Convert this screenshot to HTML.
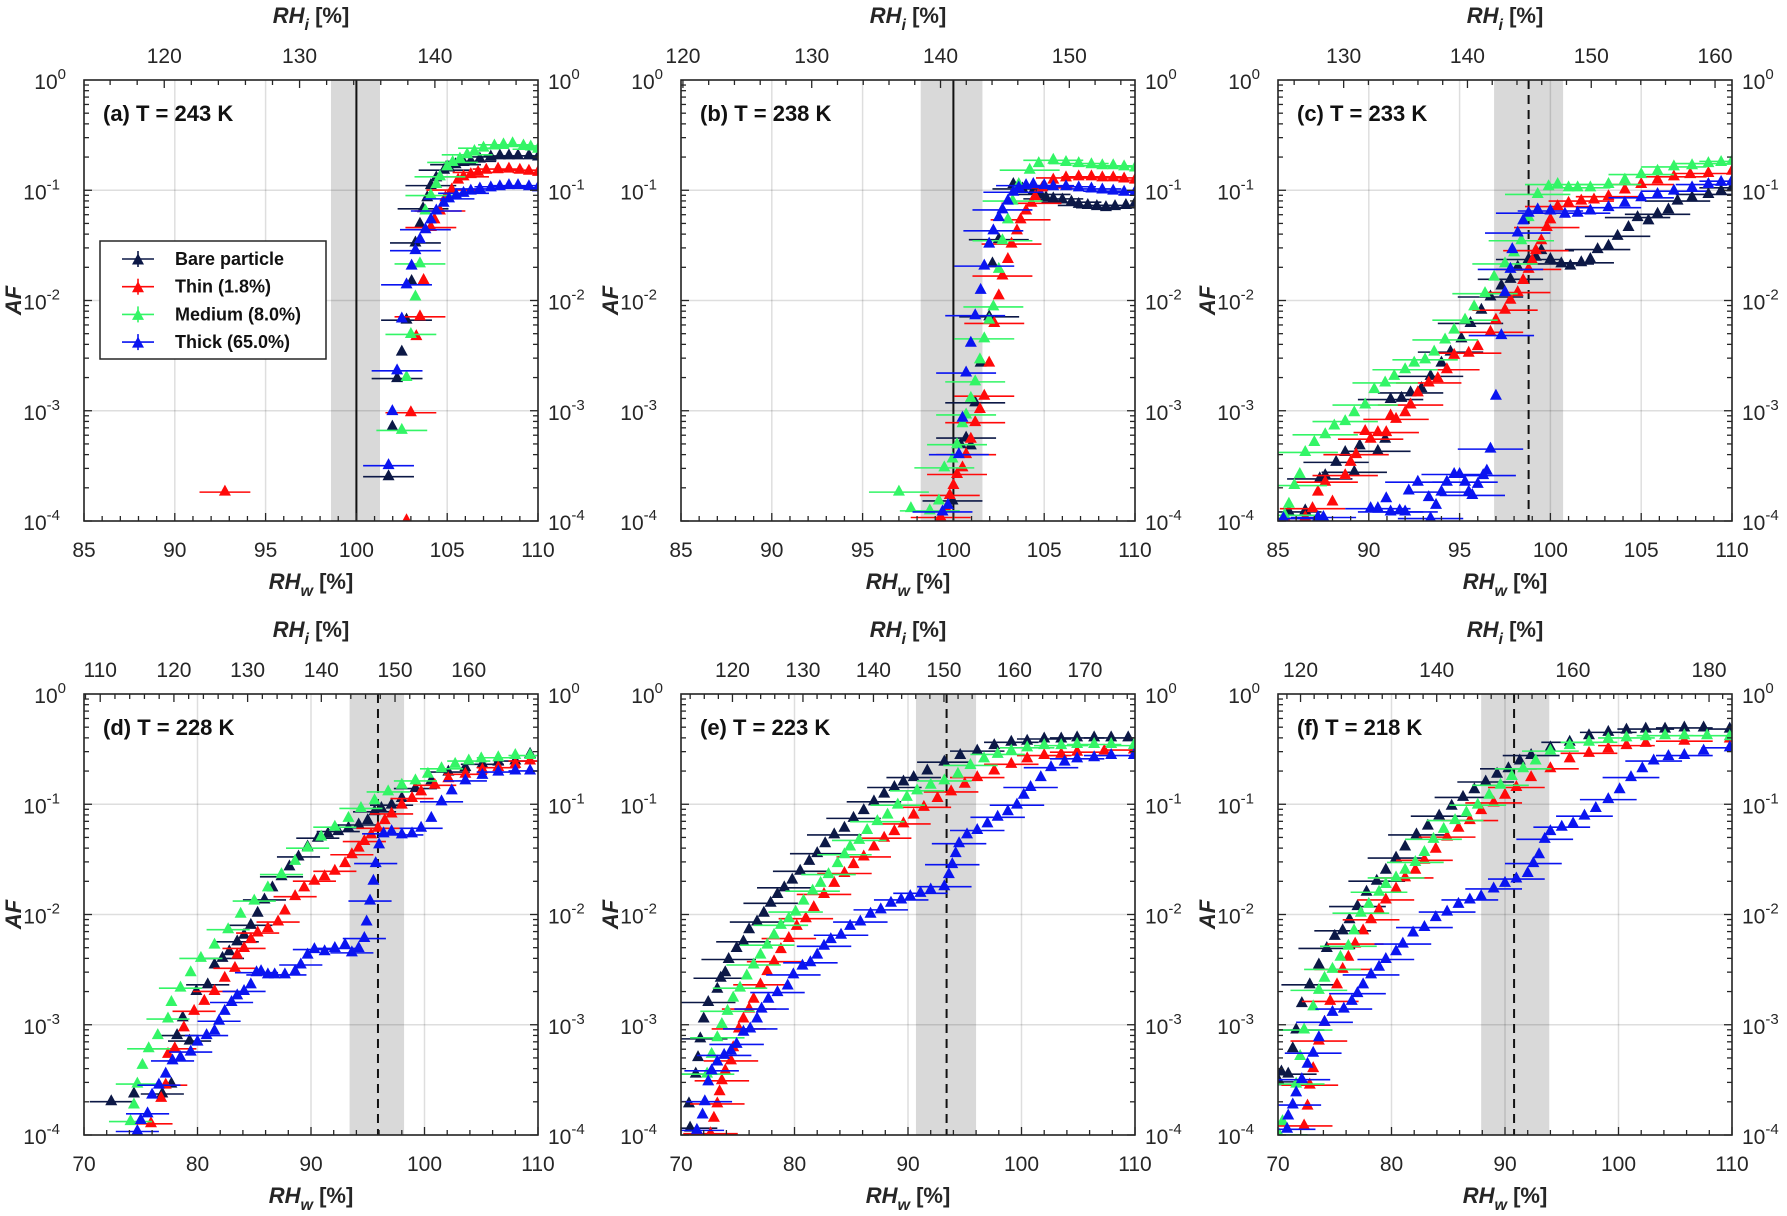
<!DOCTYPE html>
<html><head><meta charset="utf-8"><style>
body{margin:0;background:#fff}
svg{display:block;font-family:"Liberation Sans",Arial,sans-serif}
</style></head><body>
<svg id="fig" xmlns="http://www.w3.org/2000/svg" width="1787" height="1216" viewBox="0 0 1787 1216"></svg>
<script>
// ===== DATA: [RHw %, log10(AF)] =====
const bareA=[[101.77,-3.58],[101.98,-3.13],[102.24,-2.69],[102.5,-2.45],[102.76,-2.16],[103.04,-1.81],[103.25,-1.46],[103.5,-1.29],[103.67,-1.15],[103.9,-1.05],[104.1,-0.94],[104.4,-0.87],[104.83,-0.8],[105.1,-0.78],[105.46,-0.75],[105.9,-0.73],[106.3,-0.72],[106.8,-0.7],[107.4,-0.68],[107.9,-0.67],[108.4,-0.67],[108.9,-0.67],[109.5,-0.67],[110,-0.68]];
const thinA=[[92.76,-3.72],[102.76,-3.98],[103.0,-3.0],[103.3,-2.31],[103.5,-2.13],[103.7,-1.8],[104.1,-1.32],[104.3,-1.25],[104.6,-1.17],[104.9,-1.05],[105.25,-0.98],[105.6,-0.89],[105.9,-0.86],[106.3,-0.84],[106.7,-0.82],[107.15,-0.8],[107.8,-0.79],[108.4,-0.79],[109,-0.8],[109.5,-0.81],[110,-0.82]];
const medA=[[102.5,-3.16],[102.76,-2.68],[103.0,-2.29],[103.25,-1.95],[103.5,-1.65],[103.8,-1.17],[104.1,-1.03],[104.4,-0.93],[104.6,-0.86],[105.0,-0.77],[105.3,-0.73],[105.7,-0.7],[106.1,-0.66],[106.5,-0.63],[107.0,-0.6],[107.6,-0.58],[108.1,-0.57],[108.6,-0.56],[109.2,-0.58],[109.6,-0.59],[110,-0.61]];
const thickA=[[101.77,-3.48],[101.98,-2.99],[102.24,-2.62],[102.5,-2.15],[102.76,-1.84],[103.04,-1.67],[103.25,-1.53],[103.5,-1.43],[103.8,-1.34],[104.1,-1.25],[104.4,-1.17],[104.8,-1.1],[105.1,-1.06],[105.5,-1.03],[105.9,-1.01],[106.3,-0.99],[106.8,-0.97],[107.4,-0.96],[107.9,-0.95],[108.4,-0.94],[108.9,-0.94],[109.5,-0.95],[110,-0.96]];

const bareB=[[99.95,-3.8],[100.4,-3.29],[100.7,-3.23],[100.96,-3.3],[101.2,-2.91],[101.5,-2.55],[101.97,-2.13],[102.15,-1.65],[102.5,-1.43],[103.3,-0.93],[103.8,-0.97],[104.4,-0.99],[104.8,-1.02],[105.1,-1.05],[105.5,-1.06],[106.0,-1.07],[106.5,-1.09],[106.9,-1.11],[107.4,-1.12],[107.9,-1.13],[108.4,-1.14],[108.9,-1.13],[109.5,-1.12],[110,-1.1]];
const thinB=[[99.3,-3.95],[99.6,-3.87],[99.8,-3.75],[100.0,-3.66],[100.2,-3.56],[100.5,-3.5],[100.7,-3.38],[100.96,-3.24],[101.2,-3.09],[101.46,-2.97],[101.7,-2.85],[101.97,-2.55],[102.25,-2.19],[102.5,-1.94],[102.7,-1.76],[103.0,-1.61],[103.2,-1.47],[103.5,-1.35],[103.7,-1.25],[104.0,-1.17],[104.3,-1.1],[104.5,-1.04],[104.9,-0.96],[105.5,-0.89],[106.2,-0.87],[106.9,-0.86],[107.6,-0.86],[108.2,-0.87],[108.8,-0.87],[109.4,-0.88],[110,-0.89]];
const medB=[[97.0,-3.72],[97.66,-3.87],[98.7,-3.89],[99.2,-3.8],[99.5,-3.5],[99.95,-3.42],[100.2,-3.29],[100.5,-3.1],[100.7,-3.02],[100.96,-2.87],[101.2,-2.72],[101.46,-2.52],[101.7,-2.33],[101.97,-2.16],[102.2,-2.04],[102.5,-1.7],[102.7,-1.44],[103.0,-1.25],[103.26,-1.08],[103.6,-0.93],[104.2,-0.8],[104.7,-0.74],[105.5,-0.71],[106.2,-0.73],[106.9,-0.74],[107.6,-0.75],[108.2,-0.76],[108.8,-0.76],[109.4,-0.77],[110,-0.78]];
const thickB=[[99.4,-3.9],[99.7,-3.84],[100.3,-3.38],[100.5,-3.05],[100.7,-2.64],[100.96,-2.37],[101.2,-2.12],[101.5,-1.89],[101.7,-1.67],[101.97,-1.47],[102.2,-1.35],[102.5,-1.23],[102.7,-1.16],[103.0,-1.08],[103.3,-1.0],[103.6,-0.96],[104.0,-0.94],[104.4,-0.93],[105.0,-0.94],[105.5,-0.95],[106.2,-0.95],[106.9,-0.96],[107.6,-0.97],[108.2,-0.98],[108.8,-0.99],[109.4,-1.0],[110,-1.0]];

const bareC=[[85.6,-3.9],[86.5,-3.89],[87.3,-3.6],[87.6,-3.57],[88.2,-3.45],[88.7,-3.36],[89.2,-3.54],[89.5,-3.3],[90.5,-3.35],[90.9,-3.24],[91.2,-2.88],[91.8,-2.87],[92.3,-2.82],[92.9,-2.78],[93.4,-2.67],[94.0,-2.55],[94.5,-2.45],[95.1,-2.33],[95.6,-2.19],[96.2,-2.07],[96.7,-1.95],[97.3,-1.85],[97.8,-1.79],[98.2,-1.68],[98.8,-1.61],[99.2,-1.59],[99.5,-1.53],[100.0,-1.61],[100.6,-1.65],[101.1,-1.67],[101.7,-1.64],[102.2,-1.61],[102.6,-1.52],[103.2,-1.49],[103.7,-1.4],[104.3,-1.32],[104.8,-1.23],[105.4,-1.26],[105.9,-1.2],[106.5,-1.16],[107.0,-1.08],[107.8,-1.05],[108.7,-1.02],[109.4,-0.99],[110,-0.96]];
const thinC=[[85.4,-3.96],[86.5,-3.95],[86.9,-3.87],[87.2,-3.72],[87.6,-3.63],[88.0,-3.81],[88.7,-3.57],[89.0,-3.45],[89.3,-3.38],[89.8,-3.17],[90.1,-3.24],[90.5,-3.18],[90.96,-3.18],[91.2,-3.03],[91.5,-3.06],[92.0,-3.0],[92.3,-2.93],[92.7,-2.82],[93.3,-2.73],[93.8,-2.69],[94.3,-2.61],[94.7,-2.48],[95.5,-2.46],[96.0,-2.4],[96.7,-2.27],[97.0,-2.16],[97.5,-2.07],[97.8,-1.98],[98.2,-1.91],[98.5,-1.8],[98.8,-1.7],[99.0,-1.62],[99.2,-1.53],[99.5,-1.44],[99.8,-1.32],[100.0,-1.25],[100.4,-1.13],[101.0,-1.1],[101.7,-1.08],[102.4,-1.07],[103.2,-1.04],[104.1,-0.98],[105.0,-0.93],[105.9,-0.89],[106.8,-0.86],[107.7,-0.84],[108.7,-0.83],[110,-0.81]];
const medC=[[85.37,-3.93],[85.6,-3.83],[85.9,-3.66],[86.2,-3.56],[86.5,-3.36],[87.0,-3.27],[87.6,-3.2],[88.1,-3.12],[88.7,-3.08],[89.2,-3.0],[89.8,-2.93],[90.3,-2.79],[90.9,-2.73],[91.4,-2.67],[92.0,-2.61],[92.5,-2.55],[93.1,-2.52],[93.6,-2.45],[94.2,-2.34],[94.7,-2.25],[95.3,-2.16],[95.8,-2.04],[96.4,-1.92],[96.9,-1.77],[97.5,-1.65],[98.0,-1.55],[98.4,-1.44],[98.8,-1.23],[99.3,-1.02],[99.9,-0.95],[100.4,-0.93],[101.0,-0.96],[101.5,-0.96],[102.2,-0.96],[103.2,-0.93],[104.1,-0.89],[105.0,-0.84],[105.9,-0.81],[106.8,-0.77],[107.8,-0.76],[108.7,-0.74],[109.4,-0.73],[110,-0.72]];
const thickC=[[85.3,-3.96],[87.2,-3.95],[87.5,-3.95],[90.1,-3.87],[90.5,-3.87],[90.96,-3.78],[91.2,-3.9],[91.7,-3.89],[92.0,-3.9],[92.2,-3.71],[92.7,-3.63],[93.3,-3.77],[93.4,-3.96],[93.7,-3.84],[94.0,-3.72],[94.3,-3.63],[94.7,-3.56],[95.0,-3.56],[95.3,-3.63],[95.5,-3.72],[95.7,-3.75],[96.0,-3.65],[96.3,-3.57],[96.5,-3.53],[96.7,-3.33],[97.0,-2.85],[97.3,-2.3],[97.5,-1.91],[97.8,-1.7],[97.9,-1.52],[98.2,-1.37],[98.5,-1.26],[98.8,-1.19],[99.3,-1.16],[100.0,-1.17],[100.8,-1.2],[101.5,-1.19],[102.2,-1.17],[103.2,-1.14],[104.1,-1.1],[105.0,-1.05],[105.9,-1.02],[106.8,-0.99],[107.8,-0.96],[108.7,-0.93],[109.4,-0.91],[110,-0.9]];

const bareD=[[72.4,-3.68],[74.4,-3.61],[76.9,-3.61],[77.7,-3.52],[78.2,-3.08],[78.7,-2.92],[79.3,-3.13],[79.9,-2.68],[80.9,-2.62],[81.5,-2.44],[82.2,-2.38],[82.8,-2.32],[83.5,-2.23],[84.1,-2.17],[84.7,-2.08],[85.3,-1.97],[85.9,-1.85],[86.6,-1.74],[87.4,-1.64],[88.1,-1.55],[88.9,-1.46],[89.7,-1.37],[90.6,-1.29],[91.5,-1.25],[92.4,-1.23],[93.3,-1.2],[94.2,-1.17],[95.0,-1.13],[95.6,-1.05],[96.2,-1.02],[97.1,-0.99],[98.0,-0.93],[99.2,-0.84],[100.6,-0.77],[102.1,-0.69],[103.6,-0.65],[105.1,-0.62],[106.5,-0.6],[108.0,-0.59],[109.3,-0.53]];
const thinD=[[75.9,-3.88],[76.8,-3.65],[77.2,-3.53],[77.4,-3.25],[78.0,-3.2],[78.8,-3.01],[79.7,-2.86],[80.6,-2.77],[81.5,-2.68],[82.4,-2.56],[83.3,-2.47],[83.5,-2.35],[84.1,-2.29],[84.7,-2.21],[85.3,-2.15],[86.2,-2.11],[87.1,-2.05],[87.7,-1.95],[88.6,-1.82],[89.4,-1.74],[90.3,-1.68],[91.2,-1.64],[92.1,-1.59],[93.0,-1.52],[93.6,-1.44],[94.2,-1.38],[94.7,-1.32],[95.3,-1.26],[95.9,-1.2],[96.5,-1.13],[97.1,-1.07],[98.0,-0.99],[98.9,-0.93],[99.7,-0.87],[100.9,-0.81],[102.1,-0.75],[103.6,-0.71],[105.1,-0.67],[106.5,-0.65],[108.0,-0.62],[109.3,-0.59]];
const medD=[[74.1,-3.86],[74.4,-3.71],[74.7,-3.52],[75.15,-3.35],[75.7,-3.2],[76.5,-3.08],[77.4,-2.93],[77.7,-2.78],[78.5,-2.65],[79.4,-2.51],[80.3,-2.38],[81.5,-2.26],[82.7,-2.12],[83.8,-1.98],[85.0,-1.86],[86.2,-1.74],[87.4,-1.62],[88.6,-1.5],[89.7,-1.38],[90.9,-1.28],[92.1,-1.19],[93.3,-1.11],[94.4,-1.02],[95.6,-0.95],[96.8,-0.87],[98.0,-0.81],[99.2,-0.77],[100.3,-0.71],[101.5,-0.66],[102.7,-0.62],[103.9,-0.59],[105.0,-0.57],[106.5,-0.56],[108.0,-0.54],[109.3,-0.54]];
const thickD=[[74.7,-3.95],[75.0,-3.85],[75.6,-3.79],[76.0,-3.62],[76.6,-3.53],[77.2,-3.43],[77.8,-3.31],[78.5,-3.28],[79.4,-3.23],[80.0,-3.14],[80.8,-3.08],[81.5,-3.04],[81.9,-2.95],[82.4,-2.86],[83.0,-2.78],[83.5,-2.72],[84.1,-2.68],[84.7,-2.62],[85.2,-2.51],[85.6,-2.5],[86.2,-2.53],[86.8,-2.53],[87.7,-2.53],[88.6,-2.5],[89.1,-2.44],[89.7,-2.35],[90.3,-2.3],[91.2,-2.32],[92.1,-2.29],[93.0,-2.26],[93.6,-2.33],[94.2,-2.29],[94.7,-2.2],[94.9,-2.05],[95.2,-1.86],[95.5,-1.68],[95.7,-1.52],[96.0,-1.35],[96.4,-1.25],[97.1,-1.23],[98.0,-1.26],[98.9,-1.25],[99.7,-1.2],[100.6,-1.11],[101.5,-0.96],[102.4,-0.86],[103.6,-0.77],[105.1,-0.72],[106.5,-0.69],[108.0,-0.68],[109.3,-0.68]];

const bareE=[[70.8,-3.92],[70.7,-3.7],[71.3,-3.43],[71.5,-3.28],[71.7,-3.11],[72.0,-2.93],[72.4,-2.78],[73.2,-2.66],[73.5,-2.56],[73.9,-2.51],[74.2,-2.39],[74.9,-2.29],[75.5,-2.23],[76.0,-2.12],[76.7,-2.05],[77.3,-1.97],[77.9,-1.88],[78.5,-1.8],[79.1,-1.74],[79.8,-1.67],[80.5,-1.59],[81.3,-1.5],[82.0,-1.43],[82.7,-1.34],[83.5,-1.26],[84.4,-1.2],[85.2,-1.11],[86.1,-1.04],[87.0,-0.96],[87.9,-0.89],[88.8,-0.83],[89.6,-0.78],[90.5,-0.74],[91.7,-0.68],[93.2,-0.6],[94.6,-0.54],[96.1,-0.5],[97.6,-0.45],[99.1,-0.42],[100.5,-0.41],[102.0,-0.39],[103.5,-0.39],[104.9,-0.38],[106.4,-0.38],[107.9,-0.38],[109.4,-0.38]];
const thinE=[[72.6,-3.97],[72.9,-3.83],[73.2,-3.7],[73.4,-3.59],[73.6,-3.49],[73.9,-3.4],[74.4,-3.31],[74.6,-3.19],[75.1,-3.02],[75.5,-2.93],[76.0,-2.84],[76.4,-2.75],[77.0,-2.62],[77.6,-2.5],[78.2,-2.41],[78.8,-2.3],[79.5,-2.2],[80.2,-2.09],[81.0,-2.02],[81.7,-1.92],[82.6,-1.8],[83.5,-1.7],[84.4,-1.61],[85.2,-1.53],[86.1,-1.46],[87.0,-1.37],[87.9,-1.29],[88.8,-1.23],[89.6,-1.16],[90.5,-1.08],[91.4,-1.01],[92.6,-0.93],[93.8,-0.87],[95.0,-0.8],[96.1,-0.74],[97.6,-0.68],[99.1,-0.62],[100.5,-0.57],[102.0,-0.54],[103.5,-0.53],[104.9,-0.51],[107.3,-0.5],[109.9,-0.49]];
const medE=[[72.3,-3.43],[72.7,-3.25],[73.2,-3.1],[73.6,-2.98],[74.1,-2.86],[74.6,-2.74],[75.2,-2.65],[75.8,-2.54],[76.4,-2.44],[77.0,-2.35],[77.6,-2.26],[78.2,-2.17],[78.8,-2.08],[79.5,-2.02],[80.1,-1.96],[80.8,-1.86],[81.6,-1.77],[82.3,-1.7],[83.0,-1.62],[83.8,-1.52],[84.4,-1.44],[84.9,-1.37],[85.7,-1.31],[86.4,-1.22],[87.3,-1.14],[88.2,-1.08],[89.1,-0.99],[89.9,-0.92],[90.8,-0.86],[92.0,-0.81],[93.2,-0.77],[94.4,-0.71],[95.5,-0.63],[96.7,-0.57],[97.9,-0.53],[99.1,-0.5],[100.5,-0.47],[102.0,-0.45],[103.5,-0.45],[104.9,-0.44],[106.4,-0.44],[107.9,-0.44],[109.9,-0.45]];
const thickE=[[71.4,-3.94],[71.9,-3.8],[72.1,-3.68],[72.4,-3.5],[72.7,-3.4],[73.2,-3.32],[73.8,-3.26],[74.4,-3.22],[74.9,-3.16],[75.5,-3.05],[76.1,-3.02],[76.7,-2.93],[77.1,-2.84],[77.7,-2.75],[78.5,-2.69],[79.4,-2.63],[79.9,-2.53],[80.7,-2.45],[81.4,-2.42],[82.0,-2.35],[82.6,-2.27],[83.2,-2.21],[84.1,-2.17],[84.9,-2.09],[85.8,-2.05],[86.7,-1.98],[87.6,-1.94],[88.5,-1.88],[89.4,-1.85],[90.2,-1.82],[91.1,-1.79],[92.0,-1.76],[93.2,-1.73],[93.6,-1.62],[93.9,-1.53],[94.2,-1.43],[94.5,-1.34],[95.2,-1.26],[96.1,-1.22],[97.0,-1.16],[97.9,-1.1],[98.8,-1.05],[99.6,-0.99],[100.2,-0.9],[100.8,-0.83],[101.7,-0.74],[102.6,-0.65],[103.8,-0.6],[104.9,-0.57],[106.4,-0.56],[107.9,-0.54],[109.9,-0.54]];

const bareF=[[70.1,-3.5],[70.3,-3.41],[70.9,-3.43],[71.3,-3.2],[71.6,-3.03],[72.1,-2.79],[72.8,-2.62],[73.6,-2.44],[74.3,-2.29],[75.0,-2.18],[75.7,-2.13],[76.3,-2.03],[77.0,-1.91],[77.8,-1.78],[78.7,-1.68],[79.5,-1.58],[80.4,-1.47],[81.2,-1.37],[82.2,-1.26],[83.2,-1.18],[84.2,-1.09],[85.3,-1.0],[86.3,-0.92],[87.3,-0.85],[88.3,-0.78],[89.3,-0.71],[90.3,-0.66],[91.3,-0.59],[92.3,-0.54],[94.0,-0.47],[95.7,-0.42],[97.4,-0.36],[99.1,-0.33],[100.7,-0.31],[102.4,-0.3],[104.1,-0.3],[105.8,-0.29],[107.5,-0.29],[109.8,-0.3]];
const thinF=[[72.3,-3.9],[72.6,-3.72],[72.8,-3.53],[73.1,-3.38],[73.6,-3.13],[74.1,-2.96],[74.6,-2.77],[75.2,-2.62],[75.7,-2.48],[76.2,-2.37],[76.8,-2.25],[77.5,-2.13],[78.2,-2.03],[78.9,-1.94],[79.5,-1.85],[80.4,-1.75],[81.2,-1.65],[82.1,-1.58],[82.9,-1.49],[83.9,-1.39],[84.9,-1.28],[85.9,-1.2],[86.9,-1.13],[87.9,-1.04],[89.0,-0.97],[90.0,-0.9],[91.0,-0.83],[92.3,-0.74],[94.0,-0.66],[95.7,-0.57],[97.4,-0.52],[99.1,-0.48],[100.7,-0.45],[102.4,-0.43],[105.8,-0.41],[109.8,-0.39]];
const medF=[[70.1,-3.98],[70.4,-3.86],[71.6,-3.52],[71.95,-3.27],[72.3,-3.03],[73.1,-2.82],[73.6,-2.67],[74.1,-2.56],[74.8,-2.48],[75.5,-2.37],[76.2,-2.27],[76.7,-2.13],[77.3,-1.97],[78.0,-1.89],[78.9,-1.78],[79.5,-1.71],[80.4,-1.65],[81.2,-1.58],[82.1,-1.51],[82.9,-1.42],[83.7,-1.3],[84.6,-1.21],[85.6,-1.13],[86.6,-1.06],[87.6,-0.99],[88.6,-0.9],[89.6,-0.81],[90.6,-0.73],[91.6,-0.66],[92.7,-0.59],[94.0,-0.5],[95.7,-0.45],[97.4,-0.42],[99.1,-0.39],[100.7,-0.38],[102.4,-0.37],[104.1,-0.36],[105.8,-0.36],[107.8,-0.36],[109.8,-0.37]];
const thickF=[[70.8,-3.93],[70.9,-3.81],[71.3,-3.71],[71.6,-3.6],[72.1,-3.48],[72.6,-3.34],[73.1,-3.24],[73.6,-3.1],[74.1,-2.96],[74.8,-2.87],[75.8,-2.84],[76.5,-2.77],[77.0,-2.7],[77.5,-2.62],[78.2,-2.53],[78.9,-2.46],[79.5,-2.39],[80.4,-2.32],[81.0,-2.25],[81.9,-2.15],[82.9,-2.1],[83.9,-2.01],[84.9,-1.96],[85.9,-1.89],[86.9,-1.85],[87.9,-1.82],[89.0,-1.75],[90.0,-1.7],[91.0,-1.66],[92.0,-1.61],[92.5,-1.52],[93.0,-1.44],[93.5,-1.3],[94.0,-1.23],[95.0,-1.19],[96.0,-1.16],[97.0,-1.09],[98.0,-1.02],[99.1,-0.94],[100.1,-0.85],[101.1,-0.74],[102.1,-0.66],[103.1,-0.59],[104.4,-0.55],[105.8,-0.54],[107.5,-0.5],[109.8,-0.47]];

// RHw uncertainty (half width, % RH) per panel
const xErr=[1.4,1.65,1.8,1.9,2.4,2.5];
const onsetRH=[100,100,98.8,95.9,93.4,90.8];
const bandLo=[98.6,98.2,96.9,93.4,90.7,87.9];
const bandHi=[101.3,101.6,100.7,98.2,96.0,93.9];
const iceRatio=[1.342,1.41,1.467,1.54,1.61,1.667];
const panelLabels=["(a) T = 243 K","(b) T = 238 K","(c) T = 233 K","(d) T = 228 K","(e) T = 223 K","(f) T = 218 K"];
const seriesNames=["Bare particle","Thin (1.8%)","Medium (8.0%)","Thick (65.0%)"];
const seriesData=[[bareA,thinA,medA,thickA],[bareB,thinB,medB,thickB],[bareC,thinC,medC,thickC],[bareD,thinD,medD,thickD],[bareE,thinE,medE,thickE],[bareF,thinF,medF,thickF]];
const xTicksTop=[[85,90,95,100,105,110],[70,80,90,100,110]];
const rhiTicks=[[120,130,140],[120,130,140,150],[130,140,150,160],[110,120,130,140,150,160],[120,130,140,150,160,170],[120,140,160,180]];
const yExp=[0,-1,-2,-3,-4];

const colors=["#0c1846","#ff0a0a","#33f566","#0a14f0"];
const NS="http://www.w3.org/2000/svg";
const svg=document.getElementById('fig');
function mk(tag,attrs,parent){const e=document.createElementNS(NS,tag);for(const k in attrs)e.setAttribute(k,attrs[k]);(parent||svg).appendChild(e);return e;}

const lefts=[84,681,1278], tops=[80,694], W=454, H=441;
const segKeys=["bare","thin","medium","thick"];

for(let p=0;p<6;p++){
  const L=lefts[p%3], T=tops[Math.floor(p/3)], R=L+W, B=T+H;
  const xmin=p<3?85:70, xmax=110;
  const xs=v=>L+(v-xmin)/(xmax-xmin)*W;
  const ys=lv=>T+(-lv)/4*H;
  const g=mk('g',{});
  
  
  const clipId='clip'+p;
  const cp=mk('clipPath',{id:clipId},g); mk('rect',{x:L,y:T,width:W,height:H},cp);
  const band=mk('rect',{x:xs(bandLo[p]),y:T,width:xs(bandHi[p])-xs(bandLo[p]),height:H,fill:'#d9d9d9'},g);
  
  
  const xt=xTicksTop[p<3?0:1];
  xt.forEach(v=>mk('line',{x1:xs(v),x2:xs(v),y1:T,y2:B,stroke:'#000','stroke-opacity':0.13,'stroke-width':1.5},g));
  yExp.forEach(e=>mk('line',{x1:L,x2:R,y1:ys(e),y2:ys(e),stroke:'#000','stroke-opacity':0.13,'stroke-width':1.5},g));
  const ol=mk('line',{x1:xs(onsetRH[p]),x2:xs(onsetRH[p]),y1:T,y2:B,stroke:'#111','stroke-width':2,'stroke-dasharray':p<2?'none':'9,6'},g);
  
  
  const dg=mk('g',{'clip-path':'url(#'+clipId+')'},g);
  seriesData[p].forEach((ser,si)=>{
    const sg=mk('g',{},dg);
    
    
    ser.forEach((pt,i)=>{
      const cx=xs(pt[0]), cy=ys(pt[1]);
      if(i%2===0){
        const eb=mk('line',{x1:xs(pt[0]-xErr[p]),x2:xs(pt[0]+xErr[p]),y1:cy+2,y2:cy+2,stroke:colors[si],'stroke-width':1.6},sg);
        
        
      }
      const tri=mk('polygon',{points:`${cx-6},${cy+5.5} ${cx+6},${cy+5.5} ${cx},${cy-5.5}`,fill:colors[si]},sg);
      
      
    });
  });
  mk('rect',{x:L,y:T,width:W,height:H,fill:'none',stroke:'#262626','stroke-width':1.6},g);
  const minorStep=p<3?1:2;
  for(let v=xmin;v<=xmax;v+=minorStep){
    const major=xt.includes(v), len=major?8:5;
    mk('line',{x1:xs(v),x2:xs(v),y1:B,y2:B-len,stroke:'#262626','stroke-width':1.3},g);
  }
  xt.forEach(v=>{const t=mk('text',{x:xs(v),y:B+36,'text-anchor':'middle','font-size':21,fill:'#262626'},g);t.textContent=v;
    });
  const k=iceRatio[p];
  const r0=Math.ceil(xmin*k/2)*2, r1=Math.floor(xmax*k);
  for(let r=r0;r<=r1;r+=2){
    const major=r%10===0&&rhiTicks[p].includes(r), x=xs(r/k);
    mk('line',{x1:x,x2:x,y1:T,y2:T+(major?8:5),stroke:'#262626','stroke-width':1.3},g);
  }
  rhiTicks[p].forEach(r=>{const t=mk('text',{x:xs(r/k),y:T-17,'text-anchor':'middle','font-size':21,fill:'#262626'},g);t.textContent=r;
    });
  for(let e=-4;e<0;e++){for(let m=1;m<10;m++){
    const y=ys(e+Math.log10(m)), len=m===1?8:5;
    mk('line',{x1:L,x2:L+len,y1:y,y2:y,stroke:'#262626','stroke-width':1.3},g);
    mk('line',{x1:R,x2:R-len,y1:y,y2:y,stroke:'#262626','stroke-width':1.3},g);
  }}
  yExp.forEach(e=>{
    [[L-10,'end'],[R+10,'start']].forEach(([x,anc],side)=>{
      const t=mk('text',{x:anc==='end'?x-(e===0?8:14):x,y:ys(e)+9,'text-anchor':anc==='end'?'end':'start','font-size':21,fill:'#262626'},g);
      
      
      t.appendChild(document.createTextNode('10'));
      const s=mk('tspan',{dy:-10,'font-size':15},t); s.textContent=String(e);
    });
  });
  const xl=mk('text',{x:(L+R)/2,y:B+68,'text-anchor':'middle','font-size':22,'font-weight':'bold',fill:'#262626'},g);
  
  xl.innerHTML='<tspan font-style="italic">RH</tspan><tspan font-style="italic" font-size="16" dy="7">w</tspan><tspan dy="-7"> [%]</tspan>';
  const tl=mk('text',{x:(L+R)/2,y:T-57,'text-anchor':'middle','font-size':22,'font-weight':'bold',fill:'#262626'},g);
  
  tl.innerHTML='<tspan font-style="italic">RH</tspan><tspan font-style="italic" font-size="16" dy="7">i</tspan><tspan dy="-7"> [%]</tspan>';
  const yl=mk('text',{x:0,y:0,transform:`translate(${L-63},${(T+B)/2}) rotate(-90)`,'text-anchor':'middle','font-size':22,'font-weight':'bold','font-style':'italic',fill:'#262626'},g);
  
  yl.textContent='AF';
  const pl=mk('text',{x:L+19,y:T+41,'font-size':22,'font-weight':'bold',fill:'#111'},g);
  
  pl.textContent=panelLabels[p];
}
const lg=mk('g',{});


mk('rect',{x:100,y:241,width:226,height:118,fill:'#fff',stroke:'#262626','stroke-width':1.5},lg);
seriesNames.forEach((n,i)=>{
  const y=259+i*27.7;
  const eg=mk('g',{},lg);
  
  
  mk('line',{x1:122,x2:154,y1:y,y2:y,stroke:colors[i],'stroke-width':1.6},eg);
  mk('line',{x1:138,x2:138,y1:y-8,y2:y+8,stroke:colors[i],'stroke-width':1.6},eg);
  mk('polygon',{points:`${132},${y+5.5} ${144},${y+5.5} ${138},${y-5.5}`,fill:colors[i]},eg);
  const t=mk('text',{x:175,y:y+6,'font-size':18,'font-weight':'bold',fill:'#111'},eg);
  t.textContent=n;
});
</script>
</body></html>
